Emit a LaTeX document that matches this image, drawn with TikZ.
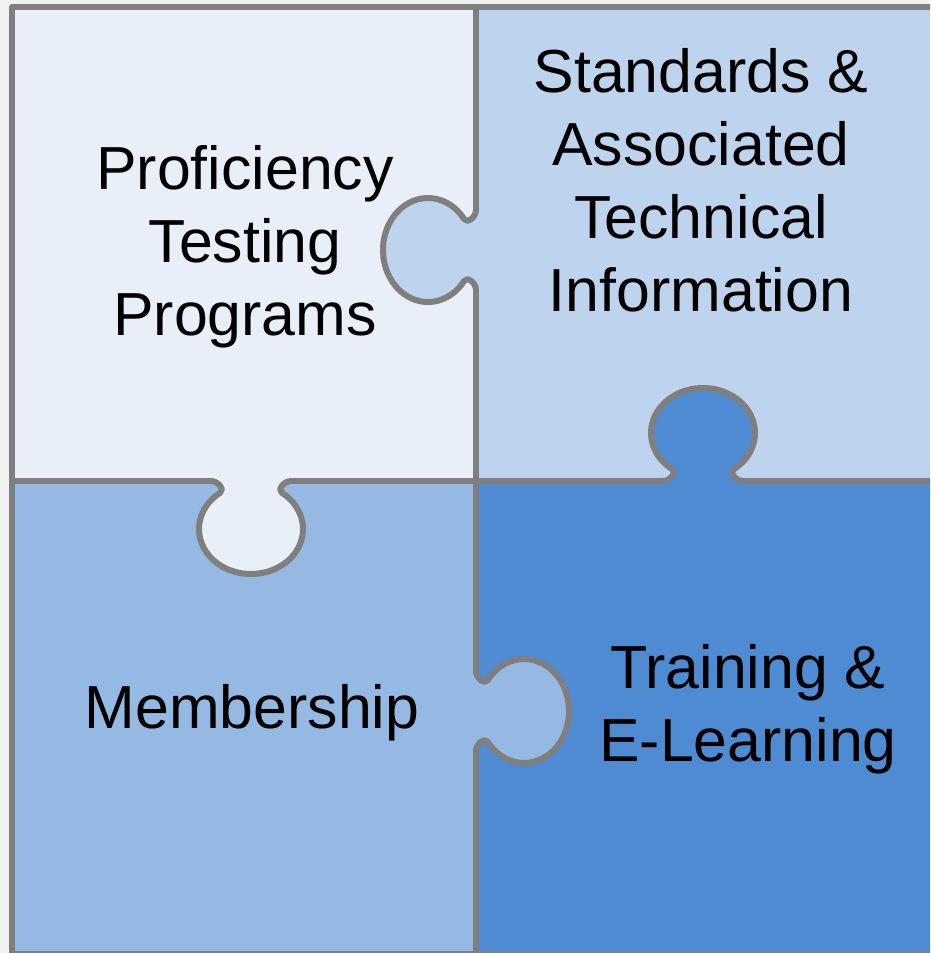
\documentclass[tikz,border=0pt]{standalone}
\usepackage{fontspec}
\setmainfont{Liberation Sans}
\definecolor{tlcol}{HTML}{E8EFF8}
\definecolor{trcol}{HTML}{BED3EE}
\definecolor{blcol}{HTML}{95B9E3}
\definecolor{brcol}{HTML}{4F8BD3}
\definecolor{edgecol}{HTML}{7F7F7F}
\definecolor{bgcol}{HTML}{F2F2F2}
\newcommand\knobcurve{(0,-40) .. controls (0,-33) and (8.7,-25.9) .. (11.9,-31) arc[start angle=216.6, end angle=503.4, x radius=45, y radius=52] .. controls (8.7,25.9) and (0,33) .. (0,40)}
\begin{document}
\begin{tikzpicture}[x=1pt,y=-1pt,
  edge/.style={draw=edgecol,line width=6pt,line cap=round,line join=round},
  lbl/.style={font=\fontsize{60.8}{73}\selectfont,align=center,inner sep=0pt,text=black}]
\useasboundingbox (0,0) rectangle (930,953);
\clip (0,0) rectangle (930,953);
\fill[bgcol] (0,0) rectangle (930,953);
\fill[tlcol] (12,7) rectangle (476,481);
\fill[trcol] (476,7) rectangle (940,481);
\fill[blcol] (12,481) rectangle (476,960);
\fill[brcol] (476,481) rectangle (940,960);
% knob of the top-right piece, into the top-left piece
\begin{scope}[shift={(476,250)},x={(-1pt,0pt)},y={(0pt,-1pt)}]
  \fill[trcol] \knobcurve -- cycle;
  \draw[edge] \knobcurve;
\end{scope}
% knob of the bottom-right piece, into the top-right piece
\begin{scope}[shift={(703,481)},x={(0pt,1pt)},y={(1pt,0pt)}]
  \fill[brcol] \knobcurve -- cycle;
  \draw[edge] \knobcurve;
\end{scope}
% knob of the top-left piece, into the bottom-left piece
\begin{scope}[shift={(251,481)},x={(0pt,-1pt)},y={(1pt,0pt)}]
  \fill[tlcol] \knobcurve -- cycle;
  \draw[edge] \knobcurve;
\end{scope}
% knob of the bottom-left piece, into the bottom-right piece
\begin{scope}[shift={(476,711)},x={(1pt,0pt)},y={(0pt,-1pt)}]
  \fill[blcol] \knobcurve -- cycle;
  \draw[edge] \knobcurve;
\end{scope}
% dividers and frame
\draw[edge] (476,7) -- (476,210) (476,290) -- (476,671) (476,751) -- (476,960);
\draw[edge] (12,481) -- (211,481) (291,481) -- (663,481) (743,481) -- (940,481);
\draw[edge] (940,7) -- (12,7) -- (12,954) -- (940,954);
% labels
\node[lbl] (ptp) at (245,247) {Proficiency\\Testing\\Programs};
\node[lbl] (sati) at (701,180) {Standards \&\\Associated\\Technical\\Information};
\node[lbl] (mem) at (252,713) {Membership};
\node[lbl] (tel) at (748,709) {Training \&\\E-Learning};
\end{tikzpicture}
\end{document}
